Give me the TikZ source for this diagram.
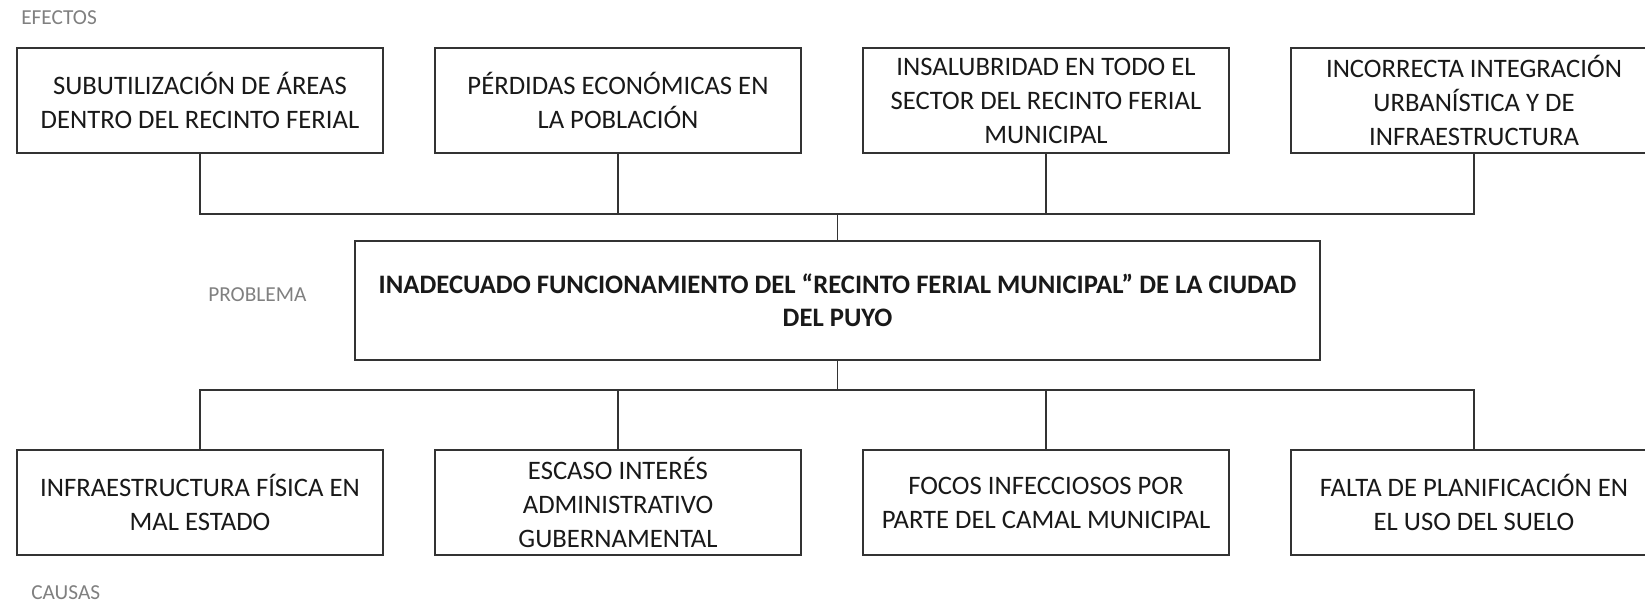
\documentclass[tikz,border=0pt]{standalone}
\usepackage{fontspec}
\setmainfont{Carlito}
\begin{document}
\begin{tikzpicture}[x=0.75pt,y=-0.75pt,
  box/.style={draw=black!80, line width=0.9pt, rectangle, align=center, inner sep=2pt,
    minimum width=274.5pt, minimum height=78.75pt, text=black!90,
    font=\fontsize{20}{25.5}\selectfont},
  prob/.style={draw=black!80, line width=0.9pt, rectangle, align=center, inner sep=2pt,
    minimum width=723.75pt, minimum height=89.25pt, text=black!90,
    font=\fontsize{20}{25}\selectfont\bfseries},
  lbl/.style={text=black!50, font=\fontsize{16}{19}\selectfont, anchor=west, inner sep=0pt},
  conn/.style={draw=black!80, line width=0.9pt}]
\useasboundingbox (0,0) rectangle (1645,604);
\fill[white] (0,0) rectangle (1645,604);

\node[lbl] (lef) at (21,18) {EFECTOS};
\node[lbl] (lpr) at (208,295) {PROBLEMA};
\node[lbl] (lca) at (31,593) {CAUSAS};

\node[box] (e1) at (200,100.5) {SUBUTILIZACIÓN DE ÁREAS\\DENTRO DEL RECINTO FERIAL};
\node[box] (e2) at (618,100.5) {PÉRDIDAS ECONÓMICAS EN\\LA POBLACIÓN};
\node[box] (e3) at (1046,100.5) {INSALUBRIDAD EN TODO EL\\SECTOR DEL RECINTO FERIAL\\MUNICIPAL};
\node[box] (e4) at (1474,100.5) {INCORRECTA INTEGRACIÓN\\URBANÍSTICA Y DE\\INFRAESTRUCTURA};

\node[prob] (p) at (837.5,300.5) {INADECUADO FUNCIONAMIENTO DEL “RECINTO FERIAL MUNICIPAL” DE LA CIUDAD\\DEL PUYO};

\node[box] (c1) at (200,502.5) {INFRAESTRUCTURA FÍSICA EN\\MAL ESTADO};
\node[box] (c2) at (618,502.5) {ESCASO INTERÉS\\ADMINISTRATIVO\\GUBERNAMENTAL};
\node[box] (c3) at (1046,502.5) {FOCOS INFECCIOSOS POR\\PARTE DEL CAMAL MUNICIPAL};
\node[box] (c4) at (1474,502.5) {FALTA DE PLANIFICACIÓN EN\\EL USO DEL SUELO};

\coordinate (jt) at (837.5,214);
\coordinate (jb) at (837.5,390);

\draw[conn] (e1.south) |- (e4.south |- jt) -- (e4.south);
\draw[conn] (e2.south) -- (e2.south |- jt);
\draw[conn] (e3.south) -- (e3.south |- jt);
\draw[conn] (p.north) -- (jt);

\draw[conn] (p.south) -- (jb);
\draw[conn] (c1.north) |- (c4.north |- jb) -- (c4.north);
\draw[conn] (c2.north) -- (c2.north |- jb);
\draw[conn] (c3.north) -- (c3.north |- jb);
\end{tikzpicture}
\end{document}
